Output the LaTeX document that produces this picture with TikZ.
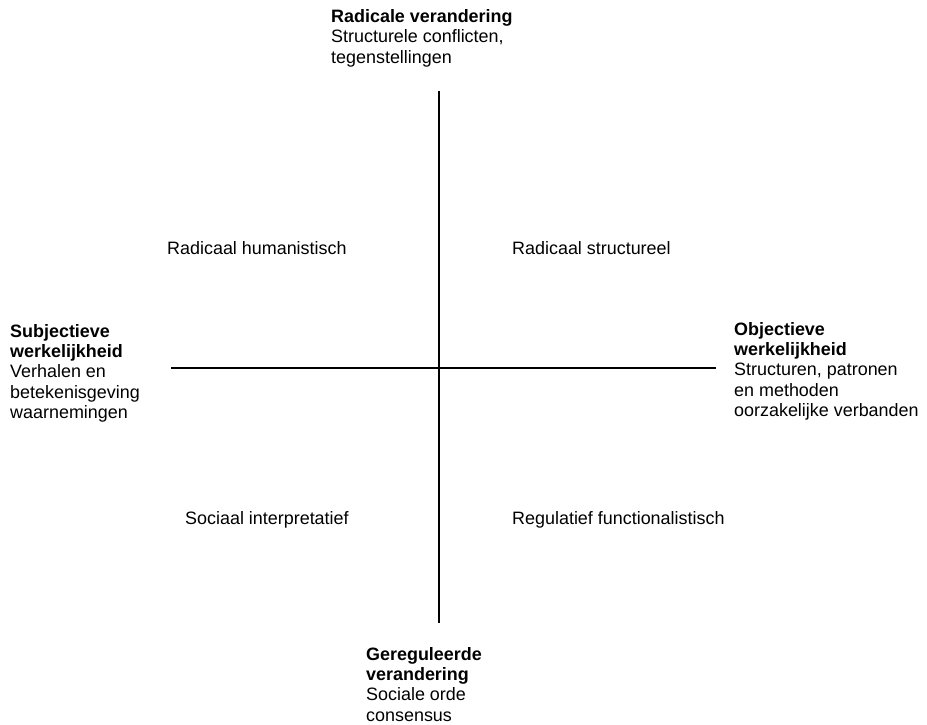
\documentclass[tikz,border=0pt]{standalone}
\usepackage{fontspec}
\setmainfont{Liberation Sans}
\newcommand{\stackedlines}[1]{\begin{tabular}[t]{@{}l@{}}#1\end{tabular}}
\tikzset{
  axis/.style={line width=1.3bp, black},
  lbl/.style={anchor=base west, inner sep=0pt, font=\fontsize{18}{20.5}\selectfont},
}
\begin{document}
\begin{tikzpicture}[x=1bp, y=-1bp]
  \useasboundingbox (0,0) rectangle (927,725);

  % axis end points
  \coordinate (top) at (439,91);
  \coordinate (bottom) at (439,623);
  \coordinate (left) at (171,368);
  \coordinate (right) at (716,368);

  \draw[axis] (top) -- (bottom);
  \draw[axis] (left) -- (right);

  % pole descriptions
  \node[lbl] (north) at (331,22.5) {\stackedlines{\textbf{Radicale verandering}\\Structurele conflicten,\\tegenstellingen}};
  \node[lbl] (west) at (10,337) {\stackedlines{\textbf{Subjectieve}\\\textbf{werkelijkheid}\\Verhalen en\\betekenisgeving\\waarnemingen}};
  \node[lbl] (east) at (734,335) {\stackedlines{\textbf{Objectieve}\\\textbf{werkelijkheid}\\Structuren, patronen\\en methoden\\oorzakelijke verbanden}};
  \node[lbl] (south) at (366,660) {\stackedlines{\textbf{Gereguleerde}\\\textbf{verandering}\\Sociale orde\\consensus}};

  % quadrant names
  \node[lbl] (q1) at (167,254) {Radicaal humanistisch};
  \node[lbl] (q2) at (512,254) {Radicaal structureel};
  \node[lbl] (q3) at (185,524) {Sociaal interpretatief};
  \node[lbl] (q4) at (512,524) {Regulatief functionalistisch};
\end{tikzpicture}
\end{document}
